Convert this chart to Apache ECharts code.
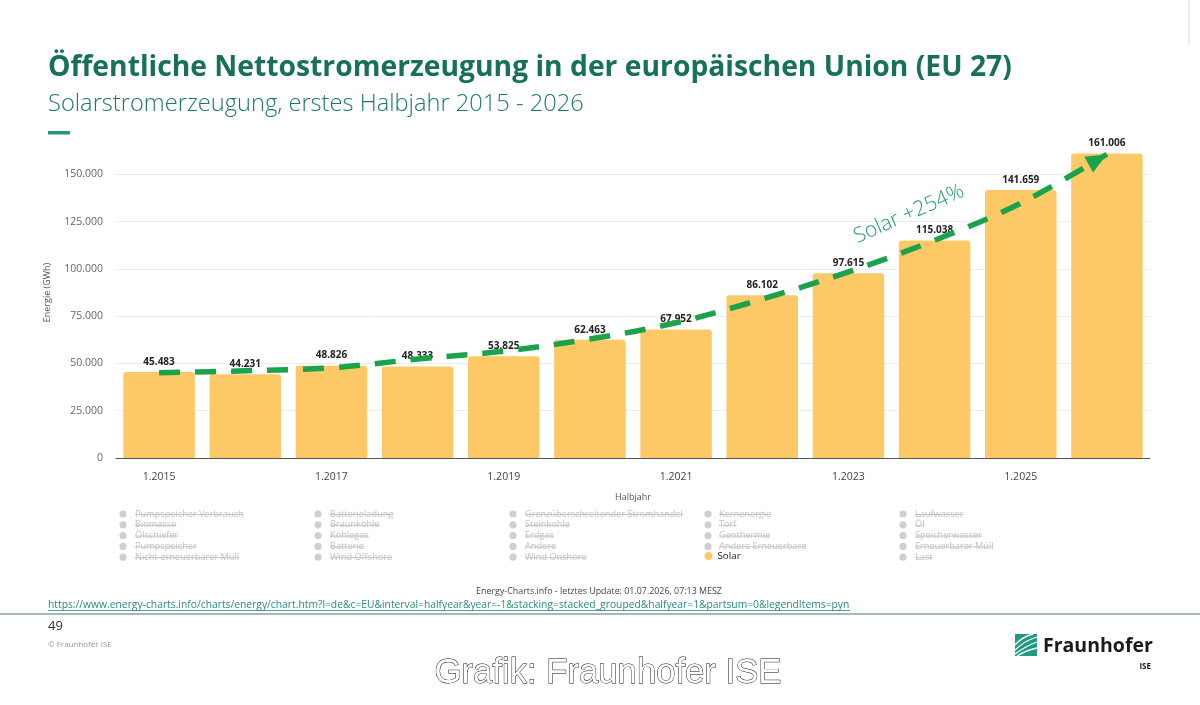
<!DOCTYPE html>
<html><head><meta charset="utf-8">
<script src="https://cdn.jsdelivr.net/npm/echarts@6/dist/echarts.min.js"></script>
<style>html,body{margin:0;padding:0;background:#fff}#c{width:1200px;height:705px}</style>
</head><body><div id="c"></div>
<script>
// ---------- data ----------
const categories = ['1.2015','1.2016','1.2017','1.2018','1.2019','1.2020','1.2021','1.2022','1.2023','1.2024','1.2025','1.2026'];
const solar = [45483, 44231, 48826, 48333, 53825, 62463, 67952, 86102, 97615, 115038, 141659, 161006];
const trend = [45050, 46100, 47700, 52300, 56500, 62900, 71500, 84000, 98400, 115100, 134700, 160600];
const trendLabel = 'Solar +254%';
const legendCols = [
  ['Pumpspeicher Verbrauch','Biomasse','Ölschiefer','Pumpspeicher','Nicht-erneuerbarer Müll'],
  ['Batterieladung','Braunkohle','Kohlegas','Batterie','Wind Offshore'],
  ['Grenzüberschreitender Stromhandel','Steinkohle','Erdgas','Andere','Wind Onshore'],
  ['Kernenergie','Torf','Geothermie','Andere Erneuerbare','Solar'],
  ['Laufwasser','Öl','Speicherwasser','Erneuerbarer Müll','Last']
];
const activeName = 'Solar';

// ---------- helpers ----------
const FONT = '"Open Sans", "Noto Sans", sans-serif';
const cv = document.createElement('canvas').getContext('2d');
function measure(font, text){ cv.font = font; return cv.measureText(text).width; }
function fitSize(weight, family, text, width){
  const base = 20; const w = measure(weight + ' ' + base + 'px ' + family, text);
  return base * width / w;
}
function deNum(v){ return String(Math.round(v)).replace(/\B(?=(\d{3})+(?!\d))/g, '.'); }

const chart = echarts.init(document.getElementById('c'), null, {renderer:'canvas'});

const titleText = 'Öffentliche Nettostromerzeugung in der europäischen Union (EU 27)';
const subText = 'Solarstromerzeugung, erstes Halbjahr 2015 - 2026';
const titleSize = fitSize('bold', FONT, titleText, 964);
const subSize = fitSize('300', FONT, subText, 536);
const footText = 'Energy-Charts.info - letztes Update: 01.07.2026, 07:13 MESZ';
const footSize = fitSize('normal', FONT, footText, 246);
const urlText = 'https://www.energy-charts.info/charts/energy/chart.htm?l=de&c=EU&interval=halfyear&year=-1&stacking=stacked_grouped&halfyear=1&partsum=0&legendItems=pyn';
const urlSize = fitSize('normal', FONT, urlText, 802);
const grafText = 'Grafik: Fraunhofer ISE';
const grafSize = fitSize('normal', '"Liberation Sans", Arial', grafText, 347);
const fhSize = fitSize('bold', FONT, 'Fraunhofer', 110);

// legend graphics
const legendGraphics = [];
const dotX = [123, 318, 513, 708, 903];
const textX = [135, 330, 525, 719, 915];
const rowY = [514, 524.8, 535.6, 546.4, 557.2];
const legFont = '9.2px ' + FONT;
legendCols.forEach((col, c) => {
  col.forEach((name, r) => {
    if (name === activeName) return;
    const w = measure(legFont, name);
    legendGraphics.push({type:'circle', shape:{cx:dotX[c], cy:rowY[r], r:3.6}, style:{fill:'#cfcfcf'}, silent:true});
    legendGraphics.push({type:'text', x:textX[c], y:rowY[r], style:{text:name, font:legFont, fill:'#c2c2c2', textAlign:'left', textVerticalAlign:'middle'}, silent:true});
    legendGraphics.push({type:'line', shape:{x1:textX[c], y1:rowY[r]+0.5, x2:textX[c]+w, y2:rowY[r]+0.5}, style:{stroke:'#c2c2c2', lineWidth:1}, silent:true});
  });
});

const staticGraphics = [
  {type:'text', x:48, y:68, style:{text:titleText, font:'bold ' + titleSize + 'px ' + FONT, fill:'#16705a', textAlign:'left', textVerticalAlign:'middle'}},
  {type:'text', x:48, y:104, style:{text:subText, font:'300 ' + subSize + 'px ' + FONT, fill:'#1d7a62', textAlign:'left', textVerticalAlign:'middle'}},
  {type:'rect', shape:{x:48, y:131, width:22, height:3.5}, style:{fill:'#23967c'}},
  {type:'line', shape:{x1:1189, y1:0, x2:1189, y2:45}, style:{stroke:'#dddddd', lineWidth:1}},
  {type:'text', x:599, y:591, style:{text:footText, font:footSize + 'px ' + FONT, fill:'#444', textAlign:'center', textVerticalAlign:'middle'}},
  {type:'text', x:48, y:605, style:{text:urlText, font:urlSize + 'px ' + FONT, fill:'#2a8a78', textAlign:'left', textVerticalAlign:'middle'}},
  {type:'line', shape:{x1:48, y1:610.5, x2:850, y2:610.5}, style:{stroke:'#2a8a78', lineWidth:0.8}},
  {type:'rect', shape:{x:0, y:613, width:1200, height:2}, style:{fill:'#a6b8bb'}},
  {type:'text', x:48, y:626, style:{text:'49', font:'13px ' + FONT, fill:'#333', textAlign:'left', textVerticalAlign:'middle'}},
  {type:'text', x:48, y:645, style:{text:'© Fraunhofer ISE', font:'8px ' + FONT, fill:'#9a9a9a', textAlign:'left', textVerticalAlign:'middle'}},
  {type:'text', x:608, y:673, style:{text:grafText, font:grafSize + 'px "Liberation Sans", Arial', fill:'#ffffff', stroke:'#000000', lineWidth:0.9, textAlign:'center', textVerticalAlign:'middle'}},
  {type:'rect', shape:{x:1015, y:634, width:22, height:22}, style:{fill:'#1f9a80'}},
  {type:'bezierCurve', shape:{x1:1015, y1:650, x2:1037, y2:637, cpx1:1024, cpy1:641}, style:{stroke:'#fff', lineWidth:1.3, fill:null}},
  {type:'bezierCurve', shape:{x1:1015, y1:654, x2:1037, y2:642, cpx1:1026, cpy1:646}, style:{stroke:'#fff', lineWidth:1.3, fill:null}},
  {type:'bezierCurve', shape:{x1:1017, y1:656, x2:1037, y2:648, cpx1:1027, cpy1:650}, style:{stroke:'#fff', lineWidth:1.3, fill:null}},
  {type:'bezierCurve', shape:{x1:1015, y1:645, x2:1033, y2:634, cpx1:1022, cpy1:637}, style:{stroke:'#fff', lineWidth:1.3, fill:null}},
  {type:'text', x:1043, y:646, style:{text:'Fraunhofer', font:'bold ' + fhSize + 'px ' + FONT, fill:'#1a1a1a', textAlign:'left', textVerticalAlign:'middle'}},
  {type:'text', x:1151, y:667, style:{text:'ISE', font:'bold 8px ' + FONT, fill:'#1a1a1a', textAlign:'right', textVerticalAlign:'middle'}},
  {type:'text', x:909, y:214, rotation:23.6*Math.PI/180, z:20, style:{text:trendLabel, font:'300 21px ' + FONT, fill:'#1f9d63', textAlign:'center', textVerticalAlign:'middle'}}
];

const option = {
  animation:false,
  backgroundColor:'#ffffff',
  textStyle:{fontFamily:FONT},
  grid:{left:116, right:50, top:127, bottom:247, containLabel:false},
  legend:{data:[activeName], left:704.5, top:551, padding:0, icon:'circle', itemWidth:8, itemHeight:8, itemGap:6,
    textStyle:{fontSize:9.8, color:'#222', fontFamily:FONT}, selectedMode:false},
  xAxis:{type:'category', data:categories, name:'Halbjahr', nameLocation:'middle', nameGap:35,
    nameTextStyle:{fontSize:9, color:'#555'},
    axisLine:{lineStyle:{color:'#555', width:1}}, axisTick:{show:false},
    axisLabel:{interval:1, fontSize:10.5, color:'#444', margin:14}},
  yAxis:{type:'value', min:0, max:175000, interval:25000, name:'Energie (GWh)', nameLocation:'middle', nameGap:64, nameRotate:90,
    nameTextStyle:{fontSize:9, color:'#555'},
    axisLine:{show:false}, axisTick:{show:false},
    axisLabel:{showMaxLabel:false, fontSize:10.5, color:'#666', margin:13, formatter:v => deNum(v)},
    splitLine:{showMaxLine:false, lineStyle:{color:'#ececec', width:1}}},
  series:[
    {name:activeName, type:'bar', data:solar, barCategoryGap:'17%', z:2,
      itemStyle:{color:'#fdc966', borderRadius:[3,3,0,0]},
      label:{show:true, position:'top', distance:5, fontSize:10, fontWeight:'bold', color:'#222', formatter:p => deNum(p.value)}},
    {name:'Trend', type:'line', data:trend, smooth:0.35, symbol:'none', z:5, silent:true,
      lineStyle:{color:'#1aa34b', width:5.5, type:[21,15], cap:'butt'}}
  ],
  graphic:{elements: staticGraphics.concat(legendGraphics)}
};
chart.setOption(option);

// arrowhead at the end of the trend line, derived from the axes
const n = trend.length;
const p1 = chart.convertToPixel({seriesIndex:1}, [n-2, trend[n-2]]);
const p2 = chart.convertToPixel({seriesIndex:1}, [n-1, trend[n-1]]);
const ang = Math.atan2(p2[1]-p1[1], p2[0]-p1[0]);
const L = 21, W = 9;
const dx = Math.cos(ang), dy = Math.sin(ang);
const bx = p2[0]-L*dx, by = p2[1]-L*dy;
const arrow = {type:'polygon', z:30, shape:{points:[[p2[0],p2[1]],[bx - W*dy, by + W*dx],[bx + W*dy, by - W*dx]]}, style:{fill:'#1aa34b'}, silent:true};
chart.setOption({graphic:{elements: staticGraphics.concat(legendGraphics, [arrow])}}, {replaceMerge:['graphic']});
</script>
</body></html>
